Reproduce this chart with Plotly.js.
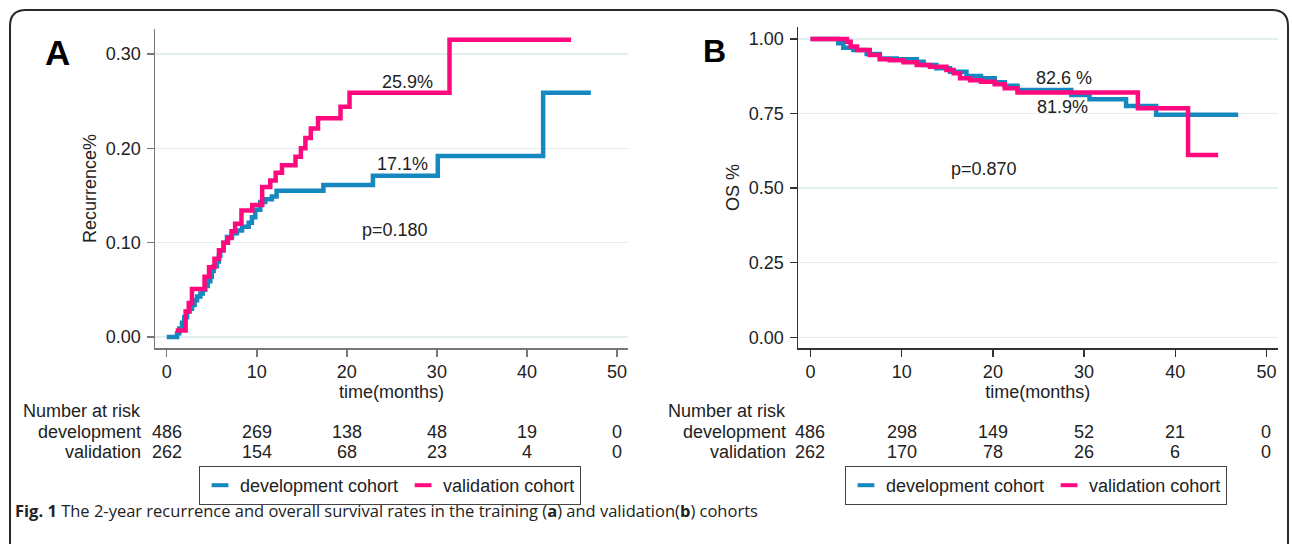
<!DOCTYPE html>
<html>
<head>
<meta charset="utf-8">
<script src="https://cdn.plot.ly/plotly-3.0.1.min.js"></script>
<style>
  html, body { margin: 0; padding: 0; background: #ffffff; }
  #chart { width: 1292px; height: 544px; }
</style>
</head>
<body>
<div id="chart"></div>
<script>
// ---------------- DATA ----------------
// Panel A: cumulative recurrence (step functions)
const recDevTime = [0, 1.15, 1.4, 1.7, 1.95, 2.26, 2.55, 2.81, 3.1, 3.37, 3.74, 4.0, 4.29, 4.55, 4.84, 5.0, 5.21, 5.58, 5.8, 5.95, 6.32, 6.69, 7.25, 7.8, 8.36, 9.1, 9.46, 9.83, 10.39, 10.94, 11.68, 12.2, 17.4, 22.9, 30.1, 41.8, 47.1];
const recDevValue = [0, 0.004, 0.009, 0.015, 0.021, 0.027, 0.030, 0.034, 0.039, 0.043, 0.046, 0.050, 0.054, 0.059, 0.064, 0.070, 0.075, 0.080, 0.086, 0.092, 0.100, 0.106, 0.110, 0.113, 0.117, 0.121, 0.127, 0.135, 0.143, 0.146, 0.149, 0.155, 0.161, 0.171, 0.192, 0.259, 0.259];
const recValTime = [1.0, 2.1, 2.45, 2.8, 4.2, 4.7, 5.3, 5.8, 6.3, 6.8, 7.2, 7.6, 8.3, 9.5, 10.6, 11.5, 12.1, 12.8, 14.3, 14.9, 15.4, 16.0, 16.8, 19.3, 20.3, 31.4, 44.9];
const recValValue = [0.007, 0.027, 0.036, 0.051, 0.064, 0.074, 0.083, 0.092, 0.100, 0.105, 0.112, 0.120, 0.134, 0.140, 0.159, 0.166, 0.174, 0.182, 0.191, 0.200, 0.211, 0.221, 0.232, 0.244, 0.259, 0.315, 0.315];

// Panel B: overall survival (step functions)
const osDevTime = [0, 3.05, 3.6, 4.7, 6.16, 7.6, 9.46, 11.65, 12.4, 13.8, 15.3, 17.1, 18.7, 20.2, 21.3, 22.7, 28.6, 30.6, 34.6, 37.9, 46.9];
const osDevValue = [1.0, 0.986, 0.971, 0.963, 0.950, 0.935, 0.932, 0.924, 0.913, 0.902, 0.890, 0.876, 0.868, 0.855, 0.843, 0.829, 0.812, 0.798, 0.775, 0.746, 0.746];
const osValTime = [0, 4.0, 4.4, 5.1, 6.5, 7.6, 8.7, 10.2, 11.65, 13.1, 14.9, 15.7, 16.4, 17.5, 18.7, 20.2, 21.3, 22.7, 35.9, 41.4, 44.7];
const osValValue = [1.0, 0.991, 0.975, 0.963, 0.946, 0.932, 0.929, 0.922, 0.913, 0.907, 0.896, 0.885, 0.868, 0.862, 0.857, 0.848, 0.835, 0.821, 0.768, 0.611, 0.611];

// Number-at-risk tables
const riskTimes = [0, 10, 20, 30, 40, 50];
const riskDevA = [486, 269, 138, 48, 19, 0];
const riskValA = [262, 154, 68, 23, 4, 0];
const riskDevB = [486, 298, 149, 52, 21, 0];
const riskValB = [262, 170, 78, 26, 6, 0];
const riskRowLabels = ['development', 'validation'];

// Tick labels
const xTicks = [0, 10, 20, 30, 40, 50];
const yTicksA = [0, 0.1, 0.2, 0.3];
const yTickTextA = ['0.00', '0.10', '0.20', '0.30'];
const yTicksB = [0, 0.25, 0.5, 0.75, 1.0];
const yTickTextB = ['0.00', '0.25', '0.50', '0.75', '1.00'];

const seriesNames = ['development cohort', 'validation cohort'];
const annotA = ['25.9%', '17.1%', 'p=0.180'];
const annotB = ['82.6 %', '81.9%', 'p=0.870'];

// ---------------- STYLE ----------------
const W = 1292, H = 544;
const BLUE = '#1588bf';
const PINK = '#ff0a7e';
const TXT = '#222222';
const FONT = 'Liberation Sans, Arial, Helvetica, sans-serif';
const px = x => x / W;           // pixel -> paper x
const py = y => 1 - y / H;        // pixel -> paper y

function stepTrace(t, v, color, xa, ya) {
  return { x: t, y: v, xaxis: xa, yaxis: ya, type: 'scatter', mode: 'lines',
    line: { color: color, width: 4.5, shape: 'hv' }, showlegend: false, hoverinfo: 'skip' };
}
function legendTrace(name, color, xa, ya, leg) {
  return { x: [null], y: [null], xaxis: xa, yaxis: ya, type: 'scatter', mode: 'markers',
    name: name, legend: leg, showlegend: true,
    marker: { symbol: 'line-ew', size: 12, color: color, line: { color: color, width: 4 } } };
}

const data = [
  stepTrace(recDevTime, recDevValue, BLUE, 'x', 'y'),
  stepTrace(recValTime, recValValue, PINK, 'x', 'y'),
  stepTrace(osDevTime, osDevValue, BLUE, 'x2', 'y2'),
  stepTrace(osValTime, osValValue, PINK, 'x2', 'y2'),
  legendTrace(seriesNames[0], BLUE, 'x', 'y', 'legend'),
  legendTrace(seriesNames[1], PINK, 'x', 'y', 'legend'),
  legendTrace(seriesNames[0], BLUE, 'x2', 'y2', 'legend2'),
  legendTrace(seriesNames[1], PINK, 'x2', 'y2', 'legend2')
];

function xAxis(domain, range, lineColor) {
  return { domain: domain, range: range, tickmode: 'array', tickvals: xTicks,
    ticks: 'outside', ticklen: 7, tickwidth: 1.5, tickcolor: lineColor,
    showline: true, linecolor: lineColor, linewidth: 1.5, showgrid: false, zeroline: false,
    tickfont: { size: 18, color: TXT, family: FONT },
    title: { text: 'time(months)', font: { size: 18, color: TXT, family: FONT }, standoff: 0 },
    fixedrange: true };
}
function yAxis(domain, range, vals, texts, lineColor, title, standoff) {
  return { domain: domain, range: range, tickmode: 'array', tickvals: vals, ticktext: texts,
    ticks: 'outside', ticklen: 7, tickwidth: 1.5, tickcolor: lineColor,
    showline: true, linecolor: lineColor, linewidth: 1.5,
    showgrid: true, gridcolor: '#e3eef1', gridwidth: 1.5, zeroline: false,
    ticklabelstandoff: 2,
    tickfont: { size: 18, color: TXT, family: FONT },
    title: { text: title, font: { size: 18, color: TXT, family: FONT }, standoff: standoff },
    fixedrange: true };
}

const annotations = [];
function txt(x, y, text, opts) {
  annotations.push(Object.assign({ x: x, y: y, text: text, showarrow: false,
    xanchor: 'center', yanchor: 'middle',
    font: { size: 18, color: TXT, family: FONT } }, opts || {}));
}

// panel letters
txt(px(57), py(52), '<b>A</b>', { xref: 'paper', yref: 'paper', font: { size: 35, color: '#000', family: FONT } });
txt(px(715), py(51), '<b>B</b>', { xref: 'paper', yref: 'paper', font: { size: 32, color: '#000', family: FONT } });

// in-plot labels
txt(26.7, 0.2706, annotA[0], { xref: 'x', yref: 'y' });
txt(26.2, 0.183, annotA[1], { xref: 'x', yref: 'y' });
txt(25.4, 0.1134, annotA[2], { xref: 'x', yref: 'y' });
txt(27.8, 0.868, annotB[0], { xref: 'x2', yref: 'y2' });
txt(27.6, 0.771, annotB[1], { xref: 'x2', yref: 'y2' });
txt(19.0, 0.564, annotB[2], { xref: 'x2', yref: 'y2' });

// risk tables
function riskTable(xref, labelRight, devRow, valRow) {
  const rowsY = [432, 452];
  txt(px(labelRight), py(411), 'Number at risk', { xref: 'paper', yref: 'paper', xanchor: 'right' });
  [devRow, valRow].forEach((row, r) => {
    txt(px(labelRight), py(rowsY[r]), riskRowLabels[r], { xref: 'paper', yref: 'paper', xanchor: 'right' });
    row.forEach((n, i) => {
      txt(riskTimes[i], py(rowsY[r]), String(n), { xref: xref, yref: 'paper', xanchor: 'center' });
    });
  });
}
riskTable('x', 143, riskDevA, riskValA);
riskTable('x2', 788, riskDevB, riskValB);

// caption
txt(px(13), py(510), '<b>Fig. 1</b> The 2-year recurrence and overall survival rates in the training (<b>a</b>) and validation(<b>b</b>) cohorts',
  { xref: 'paper', yref: 'paper', xanchor: 'left', font: { size: 16.5, color: TXT, family: 'Open Sans, Noto Sans, sans-serif' } });

// outer rounded frame (open at the bottom, as in the cropped figure)
const frame = 'M ' + px(10) + ',' + py(580) + ' L ' + px(10) + ',' + py(26) +
  ' Q ' + px(10) + ',' + py(10) + ' ' + px(26) + ',' + py(10) +
  ' L ' + px(1272) + ',' + py(10) +
  ' Q ' + px(1288) + ',' + py(10) + ' ' + px(1288) + ',' + py(26) +
  ' L ' + px(1288) + ',' + py(580);

const legendBase = { orientation: 'h', xanchor: 'center', yanchor: 'top',
  bordercolor: '#444', borderwidth: 1, bgcolor: '#ffffff', itemwidth: 30,
  font: { size: 18, color: TXT, family: FONT }, itemclick: false, itemdoubleclick: false };

const layout = {
  width: W, height: H,
  margin: { l: 0, r: 0, t: 0, b: 0, pad: 0 },
  paper_bgcolor: '#ffffff', plot_bgcolor: 'rgba(0,0,0,0)',
  font: { family: FONT, color: TXT, size: 18 },
  showlegend: true,
  xaxis: Object.assign(xAxis([px(155), px(628)], [-1.30, 51.22], '#777777'), { anchor: 'y' }),
  yaxis: Object.assign(yAxis([py(348), py(29)], [-0.01166, 0.3265], yTicksA, yTickTextA, '#777777', 'Recurrence%', 4), { anchor: 'x' }),
  xaxis2: Object.assign(xAxis([px(798), px(1277.6)], [-1.37, 51.22], '#333333'), { anchor: 'y2' }),
  yaxis2: Object.assign(yAxis([py(348), py(27)], [-0.0359, 1.0402], yTicksB, yTickTextB, '#333333', 'OS %', 4), { anchor: 'x2' }),
  legend: Object.assign({}, legendBase, { x: px(390), y: py(466) }),
  legend2: Object.assign({}, legendBase, { x: px(1036), y: py(466) }),
  annotations: annotations,
  shapes: [{ type: 'path', xref: 'paper', yref: 'paper', path: frame,
    line: { color: '#2a2a2a', width: 2 }, layer: 'above' }]
};

Plotly.newPlot('chart', data, layout, { displayModeBar: false, staticPlot: true });
</script>
</body>
</html>
